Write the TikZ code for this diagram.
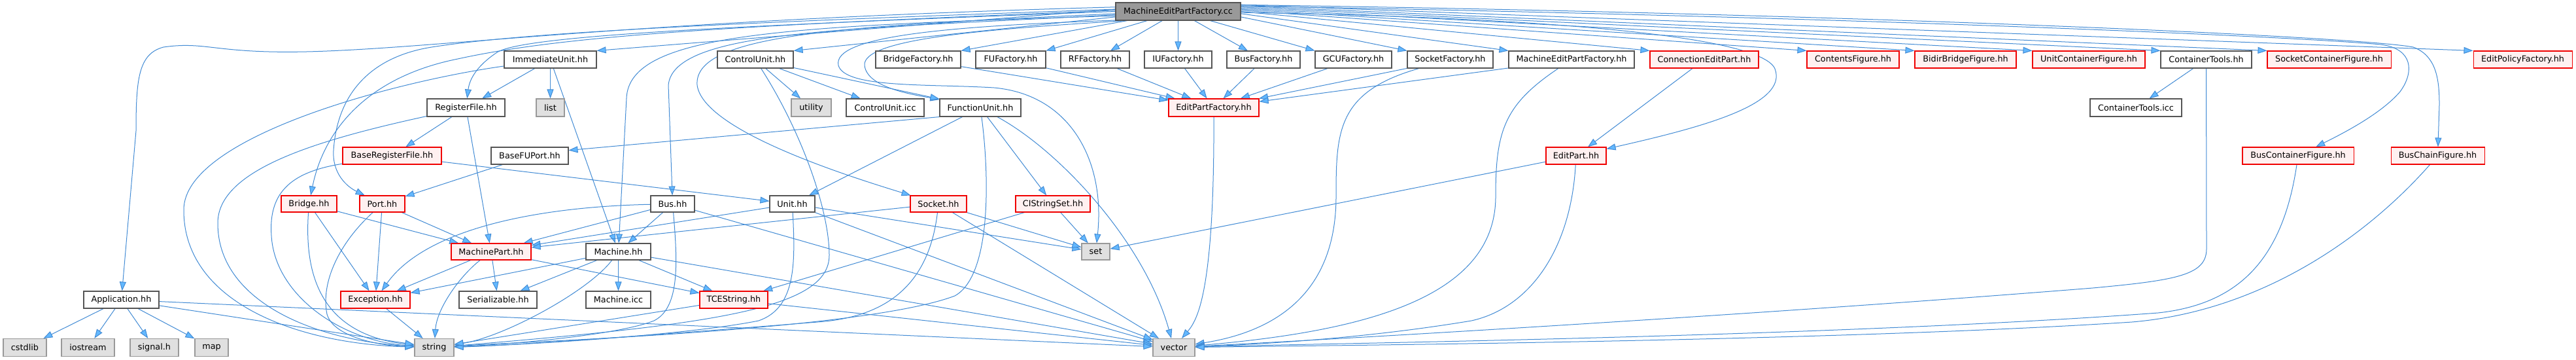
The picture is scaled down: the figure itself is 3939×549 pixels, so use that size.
\documentclass[tikz,border=0pt]{standalone}
\usepackage{fontspec}
\setmainfont{DejaVu Sans}
\usetikzlibrary{arrows.meta, backgrounds}

\definecolor{edgeline}{HTML}{428BD4}
\definecolor{arrowfill}{HTML}{63B8FF}
\definecolor{nodeborder}{HTML}{555555}
\definecolor{rootfill}{HTML}{999999}
\definecolor{redborder}{HTML}{F00000}
\definecolor{redfill}{HTML}{FFF0F0}
\definecolor{sysborder}{HTML}{999999}
\definecolor{sysfill}{HTML}{E0E0E0}

\begin{document}
\begin{tikzpicture}[
  x=1pt, y=-1pt,
  hdr/.style    = {draw=nodeborder, fill=white, line width=1.1pt, minimum height=26pt,
                   inner sep=1pt, font=\fontsize{12.8pt}{15pt}\selectfont},
  redhdr/.style = {hdr, draw=redborder, fill=redfill},
  syshdr/.style = {hdr, draw=sysborder, fill=sysfill},
  roothdr/.style= {hdr, fill=rootfill},
  dep/.style    = {draw=edgeline, line width=1pt,
                   -{Triangle[length=14pt, width=10pt, fill=arrowfill]}},
]
  \useasboundingbox (0,0) rectangle (3939,549);

  % the file itself
  \node[roothdr, minimum width=191pt, minimum height=27pt] (root) at (1801.5,17.5) {MachineEditPartFactory.cc};

  % direct includes
  \node[hdr,    minimum width=141pt] (imm)   at (841.5,91)  {ImmediateUnit.hh};
  \node[hdr,    minimum width=116pt] (cu)    at (1155,91)   {ControlUnit.hh};
  \node[hdr,    minimum width=130pt] (bf)    at (1404,91)   {BridgeFactory.hh};
  \node[hdr,    minimum width=107pt] (fuf)   at (1545.5,91) {FUFactory.hh};
  \node[hdr,    minimum width=105pt] (rff)   at (1674.5,91) {RFFactory.hh};
  \node[hdr,    minimum width=103pt] (iuf)   at (1801.5,91) {IUFactory.hh};
  \node[hdr,    minimum width=112pt] (busf)  at (1932,91)   {BusFactory.hh};
  \node[hdr,    minimum width=117pt] (gcuf)  at (2069.5,91) {GCUFactory.hh};
  \node[hdr,    minimum width=131pt] (sockf) at (2217.5,91) {SocketFactory.hh};
  \node[hdr,    minimum width=192pt] (mepfh) at (2403,91)   {MachineEditPartFactory.hh};
  \node[redhdr, minimum width=166pt] (cep)   at (2606,91)   {ConnectionEditPart.hh};
  \node[redhdr, minimum width=141pt] (cf)    at (2833.5,91) {ContentsFigure.hh};
  \node[redhdr, minimum width=155pt] (bbf)   at (3005.5,91) {BidirBridgeFigure.hh};
  \node[redhdr, minimum width=172pt] (ucf)   at (3194,91)   {UnitContainerFigure.hh};
  \node[hdr,    minimum width=139pt] (ct)    at (3373.5,91) {ContainerTools.hh};
  \node[redhdr, minimum width=189pt] (scf)   at (3561.5,91) {SocketContainerFigure.hh};
  \node[redhdr, minimum width=151pt] (epf)   at (3857.5,91) {EditPolicyFactory.hh};

  % second level
  \node[hdr,    minimum width=119pt, minimum height=27pt] (rf)    at (712.5,164.5)  {RegisterFile.hh};
  \node[syshdr, minimum width=43pt,  minimum height=27pt] (list)  at (841.5,164.5)  {list};
  \node[syshdr, minimum width=61pt,  minimum height=27pt] (util)  at (1240.5,164.5) {utility};
  \node[hdr,    minimum width=119pt, minimum height=27pt] (cuicc) at (1353.5,164.5) {ControlUnit.icc};
  \node[hdr,    minimum width=124pt, minimum height=27pt] (fu)    at (1499,164.5)   {FunctionUnit.hh};
  \node[redhdr, minimum width=138pt, minimum height=27pt] (epfac) at (1856,164.5)   {EditPartFactory.hh};
  \node[hdr,    minimum width=140pt, minimum height=27pt] (cticc) at (3266,164.5)   {ContainerTools.icc};

  \node[redhdr, minimum width=151pt] (brf)  at (599.5,238)  {BaseRegisterFile.hh};
  \node[hdr,    minimum width=118pt] (bfup) at (810,238)    {BaseFUPort.hh};
  \node[redhdr, minimum width=92pt]  (ep)   at (2410,238)   {EditPart.hh};
  \node[redhdr, minimum width=170pt] (bcf)  at (3514,238)   {BusContainerFigure.hh};
  \node[redhdr, minimum width=143pt] (bchf) at (3727.5,238) {BusChainFigure.hh};

  \node[redhdr, minimum width=85pt,  minimum height=25pt] (bridge) at (472.5,311.5) {Bridge.hh};
  \node[redhdr, minimum width=69pt,  minimum height=25pt] (port)   at (584.5,311.5) {Port.hh};
  \node[hdr,    minimum width=67pt,  minimum height=25pt] (bus)    at (1028.5,311.5) {Bus.hh};
  \node[hdr,    minimum width=69pt,  minimum height=25pt] (unit)   at (1211.5,311.5) {Unit.hh};
  \node[redhdr, minimum width=86pt,  minimum height=25pt] (sock)   at (1435,311.5)  {Socket.hh};
  \node[redhdr, minimum width=114pt, minimum height=25pt] (ciss)   at (1610,311.5)  {CIStringSet.hh};

  \node[redhdr, minimum width=122pt, minimum height=25pt] (mp)   at (751,384.5)    {MachinePart.hh};
  \node[hdr,    minimum width=99pt,  minimum height=25pt] (mach) at (945.5,384.5)  {Machine.hh};
  \node[syshdr, minimum width=43pt,  minimum height=25pt] (set)  at (1675.5,384.5) {set};

  \node[hdr,    minimum width=115pt] (app)  at (185.5,458) {Application.hh};
  \node[redhdr, minimum width=106pt] (exc)  at (574,458)   {Exception.hh};
  \node[hdr,    minimum width=119pt] (ser)  at (761.5,458) {Serializable.hh};
  \node[hdr,    minimum width=99pt]  (micc) at (945.5,458) {Machine.icc};
  \node[redhdr, minimum width=104pt] (tce)  at (1122,458)  {TCEString.hh};

  % system headers
  \node[syshdr, minimum width=66pt, minimum height=27pt] (cstdlib) at (38,531)    {cstdlib};
  \node[syshdr, minimum width=81pt, minimum height=27pt] (iostr)   at (134.5,531) {iostream};
  \node[syshdr, minimum width=74pt, minimum height=27pt] (signal)  at (236,531)   {signal.h};
  \node[syshdr, minimum width=51pt, minimum height=27pt] (map)     at (323.5,531) {map};
  \node[syshdr, minimum width=60pt, minimum height=27pt] (string)  at (664,531)   {string};
  \node[syshdr, minimum width=64pt, minimum height=27pt] (vector)  at (1795,531)  {vector};

  \begin{scope}[on background layer]
    % fan out of the file, straight ones
    \draw[dep] (root.178) -- (imm.north east);
    \draw[dep] (root.185) -- (cu.north east);
    \draw[dep] (root) -- (bf.north east);
    \draw[dep] (root) -- (fuf.north east);
    \draw[dep] (root) -- (rff);
    \draw[dep] (root) -- (iuf);
    \draw[dep] (root) -- (busf);
    \draw[dep] (root) -- (gcuf.north west);
    \draw[dep] (root.-5) -- (sockf.north west);
    \draw[dep] (root.-2) -- (mepfh.north west);
    \draw[dep] (root.0) -- (cep.north west);
    \draw[dep] (root.1) -- (cf.north west);
    \draw[dep] (root.2) -- (bbf.north west);
    \draw[dep] (root.3) -- (ucf.north west);
    \draw[dep] (root.4) -- (ct.north west);
    \draw[dep] (root.5) -- (scf.north west);
    \draw[dep] (root.6) -- (epf.north west);

    % fan out of the file, long curves
    \draw[dep] (root.176) .. controls (1000,30) and (700,70) .. (500,78)
      .. controls (330,85) and (320,62) .. (250,72)
      .. controls (212,82) and (208,120) .. (208,200) -- (app);
    \draw[dep] (root.180) .. controls (1100,40) and (800,55) .. (760,80)
      .. controls (730,100) and (718,120) .. (rf);
    \draw[dep] (root.179) .. controls (1100,40) and (860,55) .. (700,90)
      .. controls (560,118) and (495,200) .. (bridge);
    \draw[dep] (root.178) .. controls (1100,35) and (800,50) .. (660,72)
      .. controls (560,88) and (515,150) .. (510,230)
      .. controls (508,265) and (530,285) .. (port);
    \draw[dep] (root.183) .. controls (1300,45) and (1030,45) .. (1022,130) -- (bus);
    \draw[dep] (root.184) .. controls (1200,40) and (962,50) .. (958,150) -- (mach);
    \draw[dep] (root.182) .. controls (1300,40) and (1060,50) .. (1066,130)
      .. controls (1075,200) and (1300,270) .. (sock);
    \draw[dep] (root.190) .. controls (1500,45) and (1318,60) .. (1322,100)
      .. controls (1326,135) and (1400,145) .. (fu);
    \draw[dep] (root.188) .. controls (1450,40) and (1272,55) .. (1282,100)
      .. controls (1292,135) and (1420,128) .. (1520,134)
      .. controls (1640,145) and (1690,250) .. (set);
    \draw[dep] (root.-1) .. controls (2300,25) and (2690,50) .. (2714,105)
      .. controls (2735,160) and (2600,195) .. (ep);
    \draw[dep] (root.5) .. controls (2800,25) and (3500,55) .. (3640,68)
      .. controls (3690,74) and (3692,110) .. (3670,140)
      .. controls (3640,175) and (3580,205) .. (bcf);
    \draw[dep] (root.6) .. controls (2800,20) and (3600,55) .. (3690,72)
      .. controls (3725,85) and (3730,120) .. (3730,160) -- (bchf);

    % ImmediateUnit.hh, RegisterFile.hh
    \draw[dep] (imm) -- (rf);
    \draw[dep] (imm) -- (list);
    \draw[dep] (imm) -- (mach);
    \draw[dep] (imm) .. controls (600,125) and (282,210) .. (281,320)
      .. controls (280,460) and (450,525) .. (string);
    \draw[dep] (rf) -- (brf);
    \draw[dep] (rf) -- (mp);
    \draw[dep] (rf) .. controls (480,215) and (334,260) .. (333,340)
      .. controls (332,460) and (480,520) .. (string);
    \draw[dep] (brf) -- (unit);
    \draw[dep] (brf) .. controls (450,262) and (410,290) .. (415,360)
      .. controls (420,450) and (520,520) .. (string);
    \draw[dep] (bfup) -- (port);

    % ControlUnit.hh, FunctionUnit.hh
    \draw[dep] (cu) -- (util);
    \draw[dep] (cu) -- (cuicc);
    \draw[dep] (cu) -- (fu);
    \draw[dep] (cu) .. controls (1225,200) and (1268,320) .. (1268,390)
      .. controls (1268,470) and (1100,495) .. (string);
    \draw[dep] (fu.south west) -- (bfup.8);
    \draw[dep] (fu) -- (unit);
    \draw[dep] (fu) -- (ciss);
    \draw[dep] (fu) .. controls (1512,260) and (1518,420) .. (1460,452)
      .. controls (1320,505) and (800,522) .. (string);
    \draw[dep] (fu) .. controls (1620,230) and (1750,370) .. (vector);

    % Bridge.hh, Port.hh
    \draw[dep] (bridge) -- (mp);
    \draw[dep] (bridge) -- (exc);
    \draw[dep] (bridge) .. controls (465,420) and (490,510) .. (string);
    \draw[dep] (port) -- (mp);
    \draw[dep] (port) -- (exc);
    \draw[dep] (port) .. controls (520,370) and (490,430) .. (500,480)
      .. controls (510,515) and (580,528) .. (string);

    % Bus.hh, Unit.hh, Socket.hh, CIStringSet.hh
    \draw[dep] (bus) -- (mp);
    \draw[dep] (bus) -- (mach);
    \draw[dep] (bus) .. controls (820,316) and (650,350) .. (exc);
    \draw[dep] (bus) .. controls (1036,400) and (1040,470) .. (1000,490)
      .. controls (950,510) and (800,525) .. (string);
    \draw[dep] (bus) -- (vector);
    \draw[dep] (unit) -- (mp);
    \draw[dep] (unit) -- (set);
    \draw[dep] (unit) -- (vector);
    \draw[dep] (unit) .. controls (1216,400) and (1218,470) .. (1160,490)
      .. controls (1050,512) and (800,527) .. (string);
    \draw[dep] (sock) -- (mp);
    \draw[dep] (sock) -- (set);
    \draw[dep] (sock) -- (vector);
    \draw[dep] (sock) .. controls (1420,440) and (1350,485) .. (1250,492)
      .. controls (1000,512) and (780,528) .. (string);
    \draw[dep] (ciss) -- (set);
    \draw[dep] (ciss) -- (tce);

    % MachinePart.hh, Machine.hh
    \draw[dep] (mp) -- (ser);
    \draw[dep] (mp) -- (exc);
    \draw[dep] (mp) -- (tce);
    \draw[dep] (mp) .. controls (705,420) and (668,470) .. (string);
    \draw[dep] (mach) -- (ser);
    \draw[dep] (mach) -- (micc);
    \draw[dep] (mach) -- (tce);
    \draw[dep] (mach) -- (exc);
    \draw[dep] (mach) -- (vector);
    \draw[dep] (mach) .. controls (900,445) and (770,515) .. (string);

    % bottom row
    \draw[dep] (exc) -- (string);
    \draw[dep] (tce) -- (string);
    \draw[dep] (tce) -- (vector);
    \draw[dep] (app) -- (cstdlib);
    \draw[dep] (app) -- (iostr);
    \draw[dep] (app) -- (signal);
    \draw[dep] (app) -- (map);
    \draw[dep] (app) -- (string);
    \draw[dep] (app) -- (vector);

    % factories
    \draw[dep] (bf) -- (epfac);
    \draw[dep] (fuf) -- (epfac);
    \draw[dep] (rff) -- (epfac);
    \draw[dep] (iuf) -- (epfac);
    \draw[dep] (busf) -- (epfac);
    \draw[dep] (gcuf) -- (epfac);
    \draw[dep] (sockf) -- (epfac);
    \draw[dep] (mepfh) -- (epfac);
    \draw[dep] (epfac) .. controls (1857,450) and (1830,490) .. (vector);
    \draw[dep] (sockf) .. controls (2045,140) and (2043,200) .. (2043,300)
      .. controls (2043,440) and (1960,505) .. (vector);
    \draw[dep] (mepfh) .. controls (2300,160) and (2287,200) .. (2287,300)
      .. controls (2287,450) and (2100,505) .. (vector);

    % edit parts and figures
    \draw[dep] (cep) -- (ep);
    \draw[dep] (ep) -- (set);
    \draw[dep] (ep) .. controls (2402,380) and (2340,470) .. (2250,490)
      .. controls (2100,515) and (1950,525) .. (vector);
    \draw[dep] (ct) -- (cticc);
    \draw[dep] (ct) -- (3374,380) .. controls (3374,420) and (3330,428) .. (3200,440)
      .. controls (2700,480) and (2100,515) .. (vector);
    \draw[dep] (bcf) .. controls (3490,400) and (3420,465) .. (3300,478)
      .. controls (2800,515) and (2000,525) .. (vector);
    \draw[dep] (bchf) .. controls (3620,360) and (3460,475) .. (3260,492)
      .. controls (2800,522) and (2000,528) .. (vector);
  \end{scope}
\end{tikzpicture}
\end{document}
